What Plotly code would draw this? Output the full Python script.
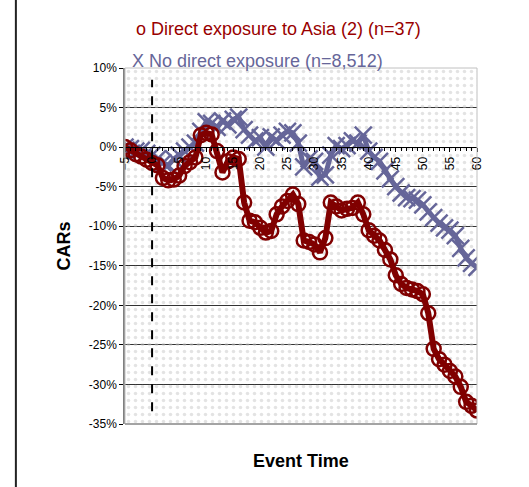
import plotly.graph_objects as go

# event time -5 .. 60
event_time = list(range(-5, 61))

# CARs (%) - direct exposure to Asia (2), n=37
car_asia = [0.0, -0.4, -0.9, -1.2, -1.6, -2.0, -2.3, -3.9, -4.2, -4.1,
            -3.6, -2.4, -1.9, -1.3, 1.5, 1.8, 1.6, -0.5, -3.2, -1.8,
            -1.3, -1.5, -7.0, -9.3, -9.5, -10.2, -10.8, -10.6, -8.5, -7.5,
            -6.8, -6.0, -7.2, -11.8, -12.0, -12.3, -13.3, -11.5, -7.0, -7.5,
            -8.0, -7.8, -7.7, -7.0, -8.5, -10.5, -11.2, -11.8, -13.0, -14.2,
            -16.2, -17.3, -17.8, -18.0, -18.2, -18.6, -21.0, -25.5, -26.8, -27.5,
            -28.3, -29.0, -30.3, -32.2, -32.7, -33.3]

# CARs (%) - no direct exposure, n=8,512
car_none = [0.0, -0.2, -0.5, -0.4, -0.8, -1.0, -1.5, -2.0, -2.3, -1.5,
            -1.0, -0.5, 0.0, 0.5, 2.0, 3.2, 3.0, 2.5, 3.3, 2.8,
            3.5, 3.8, 2.2, 1.5, 0.8, 1.2, 0.0, 1.3, 0.8, 1.5,
            2.0, 1.8, 0.5, -2.5, -1.5, -1.8, -3.8, -3.5, -1.0, 0.2,
            -0.2, 0.2, 0.8, 0.5, 1.5, -0.5, -1.3, -1.8, -3.0, -4.0,
            -5.0, -5.8, -6.4, -6.5, -6.7, -7.3, -8.2, -8.9, -9.6, -10.2,
            -10.5, -11.2, -12.8, -14.0, -14.7, -15.2]

x_ticks = list(range(-5, 61, 5))
y_ticks = list(range(-35, 11, 5))
y_labels = [f"{v}%" for v in y_ticks]

XMIN, XMAX = -5, 60
YMIN, YMAX = -35, 10

RED = "#800000"
BLUE = "#666699"

fig = go.Figure()

# dotted plot-area background (Excel style)
fig.add_trace(go.Scatter(
    x=[XMIN, XMAX, XMAX, XMIN, XMIN], y=[YMIN, YMIN, YMAX, YMAX, YMIN],
    fill="toself", mode="none", fillcolor="rgba(0,0,0,0)",
    fillpattern=dict(shape=".", fgcolor="#c8c8c8", bgcolor="rgba(0,0,0,0)",
                     size=7, solidity=0.2),
    hoverinfo="skip", showlegend=False))

fig.add_trace(go.Scatter(
    x=event_time, y=car_none, mode="lines+markers",
    line=dict(color=BLUE, width=5),
    marker=dict(symbol="x-thin-open", size=17, line=dict(color=BLUE, width=2.5)),
    showlegend=False))

fig.add_trace(go.Scatter(
    x=event_time, y=car_asia, mode="lines+markers",
    line=dict(color=RED, width=6),
    marker=dict(symbol="circle-open", size=14, color=RED, line=dict(color=RED, width=2.5)),
    showlegend=False))

# event day marker
fig.add_shape(type="line", x0=0, x1=0, y0=-33.4, y1=8.5, xref="x", yref="y",
              line=dict(color="black", width=2, dash="dash"))
# plot border
fig.add_shape(type="rect", xref="paper", yref="paper", x0=0, x1=1, y0=0, y1=1,
              line=dict(color="#c0c0c0", width=1))
fig.add_shape(type="line", xref="paper", yref="paper", x0=0, x1=1, y0=0, y1=0,
              line=dict(color="#909090", width=1.5))
# frame line at the far left of the page
fig.add_shape(type="line", xref="paper", yref="paper", x0=-0.31, x1=-0.31, y0=-0.2, y1=1.2,
              line=dict(color="#222222", width=2))

fig.add_annotation(text="o Direct exposure to Asia (2) (n=37)", xref="paper", yref="paper",
                   x=0.435, y=1.11, xanchor="center", yanchor="middle", showarrow=False,
                   font=dict(family="Arial", size=18, color="#990000"))
fig.add_annotation(text="X No direct exposure (n=8,512)", xref="paper", yref="paper",
                   x=0.375, y=1.02, xanchor="center", yanchor="middle", showarrow=False,
                   font=dict(family="Arial", size=18, color=BLUE))

fig.update_layout(
    width=529, height=487,
    margin=dict(l=125, r=52, t=68, b=63),
    paper_bgcolor="white", plot_bgcolor="white",
    font=dict(family="Arial", size=12, color="black"),
    xaxis=dict(
        range=[XMIN, XMAX], tickvals=x_ticks, tickangle=-90,
        anchor="free", position=(0 - YMIN) / (YMAX - YMIN),
        showline=True, linecolor="black", linewidth=1,
        ticks="outside", ticklen=4, tickcolor="black",
        minor=dict(dtick=1, ticks="outside", ticklen=3, tickcolor="black"),
        showgrid=False, zeroline=False,
        tickfont=dict(family="Arial", size=12),
    ),
    yaxis=dict(
        range=[YMIN, YMAX], tickvals=y_ticks, ticktext=y_labels,
        showline=True, linecolor="#808080", linewidth=1.5,
        ticks="outside", ticklen=4, tickcolor="black",
        showgrid=True, gridcolor="#333333", gridwidth=1, zeroline=False,
        title=dict(text="<b>CARs</b>", font=dict(family="Arial", size=18), standoff=14),
        tickfont=dict(family="Arial", size=12),
    ),
)

fig.add_annotation(text="<b>Event Time</b>", xref="paper", yref="paper",
                   x=0.5, y=-0.105, xanchor="center", yanchor="middle", showarrow=False,
                   font=dict(family="Arial", size=18, color="black"))

fig.write_html("out.html", config={"displayModeBar": False},
               post_script="document.body.style.margin='0';")
